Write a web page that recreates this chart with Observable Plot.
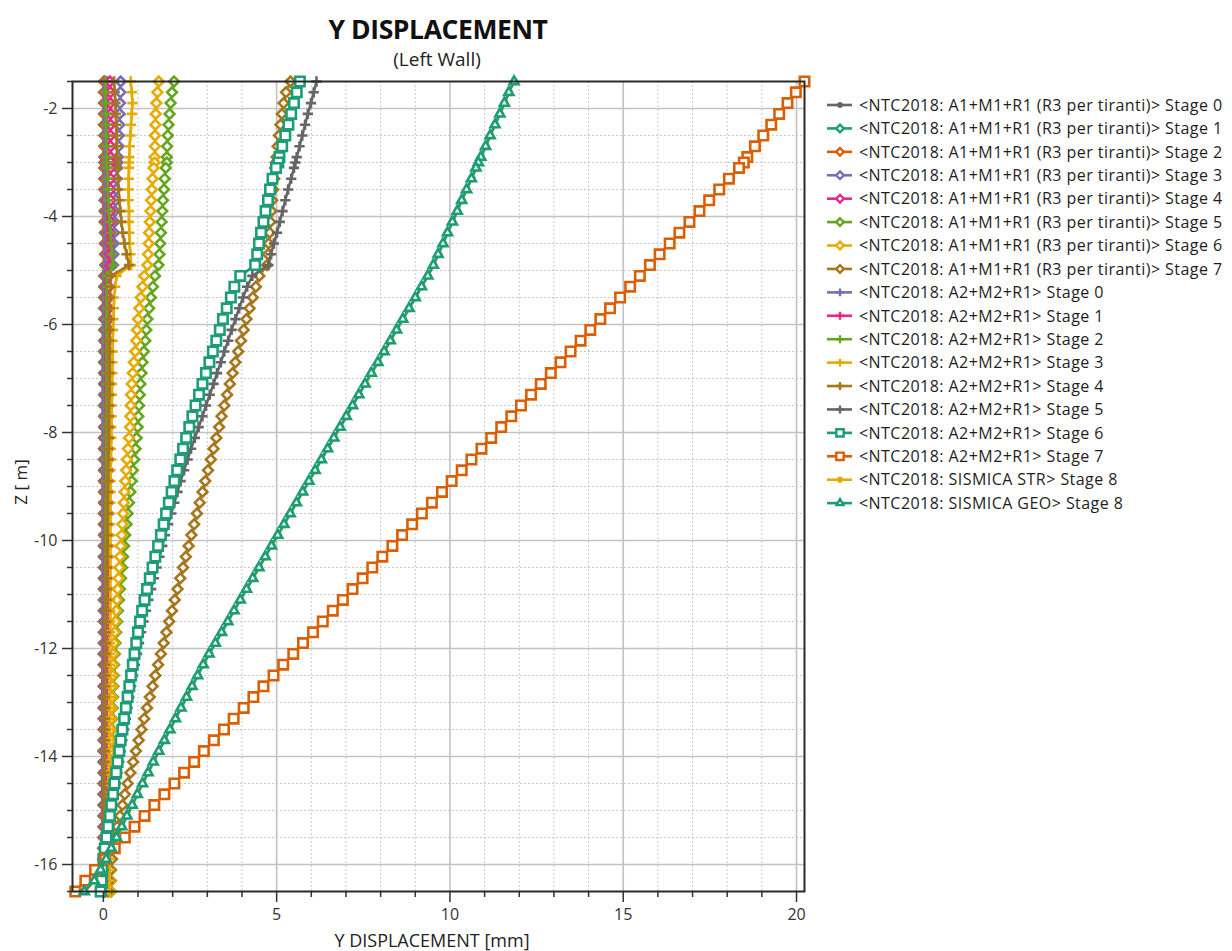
<!DOCTYPE html>
<html><head><meta charset="utf-8">
<script src="https://cdn.jsdelivr.net/npm/d3@7"></script>
<script src="https://cdn.jsdelivr.net/npm/@observablehq/plot@0.6"></script>
<style>
body{margin:0;background:#fff;font-family:"Open Sans",sans-serif;}
#wrap{position:relative;width:1232px;height:951px;overflow:hidden;background:#fff;}
.t{position:absolute;white-space:nowrap;color:#111;}
</style></head><body><div id="wrap"></div>
<script>
const depths = [-1.5,-1.7,-1.9,-2.1,-2.3,-2.5,-2.7,-2.9,-3.0,-3.1,
 -3.3,-3.5,-3.7,-3.9,-4.1,-4.3,-4.5,-4.7,-4.9,-5.1,
 -5.3,-5.5,-5.7,-5.9,-6.1,-6.3,-6.5,-6.7,-6.9,-7.1,
 -7.3,-7.5,-7.7,-7.9,-8.1,-8.3,-8.5,-8.7,-8.9,-9.1,
 -9.3,-9.5,-9.7,-9.9,-10.1,-10.3,-10.5,-10.7,-10.9,-11.1,
 -11.3,-11.5,-11.7,-11.9,-12.1,-12.3,-12.5,-12.7,-12.9,-13.1,
 -13.3,-13.5,-13.7,-13.9,-14.1,-14.3,-14.5,-14.7,-14.9,-15.1,
 -15.3,-15.5,-15.7,-15.9,-16.1,-16.3,-16.5];

const a1Stage0 = [0.02,0.02,0.01,0.01,0.01,0.01,0.00,0.00,0.00,0.00,
 0.00,0.00,0.00,0.00,0.01,0.01,0.01,0.02,0.02,0.00,
 0.00,-0.01,-0.01,-0.01,-0.01,-0.02,-0.02,-0.02,-0.02,-0.02,
 -0.02,-0.02,-0.02,-0.02,-0.02,-0.02,-0.02,-0.02,-0.02,-0.02,
 -0.02,-0.02,-0.02,-0.02,-0.02,-0.02,-0.02,-0.02,-0.02,-0.02,
 -0.02,-0.02,-0.02,-0.02,-0.02,-0.02,-0.03,-0.03,-0.03,-0.03,
 -0.03,-0.03,-0.03,-0.03,-0.03,-0.03,-0.03,-0.03,-0.03,-0.03,
 -0.03,-0.03,-0.04,-0.04,-0.04,-0.05,-0.05];
const a1Stage1 = [0.04,0.04,0.04,0.04,0.04,0.04,0.04,0.04,0.04,0.04,
 0.04,0.04,0.05,0.05,0.05,0.06,0.06,0.07,0.07,0.03,
 0.03,0.03,0.03,0.03,0.03,0.03,0.03,0.03,0.03,0.03,
 0.03,0.03,0.03,0.03,0.03,0.03,0.03,0.03,0.03,0.03,
 0.03,0.03,0.03,0.03,0.02,0.02,0.02,0.02,0.02,0.02,
 0.02,0.02,0.02,0.02,0.02,0.02,0.02,0.02,0.02,0.02,
 0.02,0.02,0.01,0.01,0.01,0.01,0.01,0.01,0.01,0.01,
 0.01,0.01,0.00,0.00,0.00,0.00,-0.01];
const a1Stage2 = [0.02,0.02,0.02,0.02,0.02,0.03,0.03,0.03,0.03,0.03,
 0.03,0.03,0.04,0.04,0.04,0.05,0.05,0.05,0.06,0.03,
 0.03,0.03,0.03,0.03,0.03,0.03,0.03,0.03,0.03,0.03,
 0.03,0.03,0.03,0.03,0.02,0.02,0.02,0.02,0.02,0.02,
 0.02,0.02,0.02,0.02,0.02,0.02,0.02,0.02,0.02,0.02,
 0.02,0.02,0.02,0.02,0.01,0.01,0.01,0.01,0.01,0.01,
 0.01,0.01,0.01,0.01,0.01,0.01,0.01,0.01,0.01,0.01,
 0.01,0.00,0.00,0.00,0.00,-0.01,-0.01];
const a1Stage3 = [0.50,0.49,0.48,0.47,0.46,0.45,0.44,0.42,0.41,0.40,
 0.38,0.36,0.35,0.33,0.32,0.31,0.30,0.29,0.28,0.08,
 0.07,0.07,0.07,0.06,0.06,0.06,0.06,0.06,0.06,0.05,
 0.05,0.05,0.05,0.05,0.05,0.05,0.05,0.05,0.05,0.05,
 0.05,0.05,0.05,0.04,0.04,0.04,0.04,0.04,0.04,0.04,
 0.04,0.04,0.04,0.03,0.03,0.03,0.03,0.03,0.03,0.03,
 0.03,0.03,0.02,0.02,0.02,0.02,0.02,0.02,0.02,0.02,
 0.01,0.01,0.01,0.01,0.00,0.00,0.00];
const a1Stage4 = [0.19,0.20,0.20,0.21,0.21,0.21,0.21,0.21,0.21,0.21,
 0.21,0.21,0.21,0.21,0.21,0.20,0.20,0.19,0.18,0.16,
 0.16,0.16,0.16,0.16,0.16,0.16,0.16,0.16,0.16,0.16,
 0.15,0.15,0.15,0.15,0.14,0.14,0.14,0.14,0.13,0.13,
 0.13,0.13,0.12,0.12,0.12,0.12,0.11,0.11,0.11,0.11,
 0.10,0.10,0.10,0.10,0.09,0.09,0.09,0.09,0.08,0.08,
 0.08,0.08,0.07,0.07,0.07,0.07,0.06,0.06,0.06,0.06,
 0.05,0.05,0.05,0.05,0.04,0.04,0.04];
const a1Stage5 = [2.04,1.98,1.94,1.91,1.88,1.86,1.84,1.83,1.83,1.80,
 1.77,1.75,1.72,1.70,1.68,1.66,1.64,1.62,1.59,1.49,
 1.43,1.37,1.32,1.27,1.24,1.21,1.17,1.13,1.10,1.07,
 1.05,1.03,1.01,0.99,0.96,0.93,0.89,0.85,0.82,0.78,
 0.74,0.70,0.67,0.63,0.60,0.57,0.54,0.51,0.48,0.45,
 0.42,0.40,0.37,0.35,0.33,0.31,0.30,0.29,0.28,0.27,
 0.26,0.25,0.25,0.24,0.24,0.23,0.23,0.23,0.22,0.22,
 0.22,0.22,0.22,0.22,0.22,0.22,0.22];
const a1Stage6 = [1.60,1.56,1.53,1.51,1.50,1.49,1.49,1.48,1.48,1.45,
 1.42,1.40,1.38,1.36,1.34,1.32,1.31,1.29,1.27,1.18,
 1.13,1.08,1.04,1.00,0.97,0.95,0.92,0.88,0.85,0.82,
 0.80,0.79,0.78,0.77,0.74,0.71,0.68,0.66,0.63,0.61,
 0.59,0.57,0.55,0.53,0.50,0.48,0.46,0.44,0.41,0.39,
 0.37,0.35,0.33,0.31,0.29,0.28,0.27,0.26,0.25,0.24,
 0.23,0.23,0.22,0.22,0.21,0.21,0.21,0.20,0.20,0.20,
 0.20,0.20,0.20,0.20,0.20,0.21,0.21];
const a1Stage7 = [5.40,5.27,5.20,5.15,5.11,5.07,5.03,5.00,4.98,4.96,
 4.93,4.90,4.87,4.85,4.82,4.80,4.77,4.75,4.72,4.50,
 4.40,4.31,4.22,4.13,4.05,3.97,3.89,3.81,3.73,3.65,
 3.57,3.49,3.41,3.34,3.26,3.18,3.10,3.02,2.94,2.86,
 2.78,2.70,2.62,2.54,2.46,2.38,2.30,2.22,2.14,2.06,
 1.98,1.90,1.82,1.74,1.66,1.58,1.50,1.42,1.34,1.26,
 1.18,1.10,1.02,0.94,0.86,0.78,0.70,0.62,0.55,0.48,
 0.40,0.34,0.29,0.25,0.21,0.17,0.14];
const a2Stage0 = [0.02,0.02,0.02,0.02,0.02,0.02,0.03,0.03,0.03,0.03,
 0.03,0.03,0.03,0.03,0.04,0.04,0.04,0.05,0.05,0.02,
 0.02,0.02,0.02,0.02,0.02,0.02,0.02,0.02,0.02,0.02,
 0.02,0.02,0.02,0.02,0.02,0.02,0.02,0.02,0.02,0.02,
 0.02,0.02,0.02,0.02,0.02,0.02,0.02,0.02,0.02,0.02,
 0.02,0.02,0.02,0.02,0.01,0.01,0.01,0.01,0.01,0.01,
 0.01,0.01,0.01,0.01,0.01,0.01,0.01,0.01,0.01,0.01,
 0.01,0.01,0.00,0.00,0.00,0.00,0.00];
const a2Stage1 = [0.10,0.10,0.10,0.10,0.11,0.11,0.11,0.11,0.11,0.11,
 0.12,0.12,0.12,0.13,0.13,0.14,0.15,0.16,0.17,0.07,
 0.07,0.07,0.07,0.07,0.07,0.06,0.06,0.06,0.06,0.06,
 0.06,0.06,0.06,0.06,0.06,0.06,0.06,0.06,0.06,0.06,
 0.05,0.05,0.05,0.05,0.05,0.05,0.05,0.05,0.05,0.05,
 0.05,0.05,0.05,0.04,0.04,0.04,0.04,0.04,0.04,0.04,
 0.04,0.03,0.03,0.03,0.03,0.03,0.03,0.03,0.02,0.02,
 0.02,0.02,0.02,0.01,0.01,0.01,0.01];
const a2Stage2 = [0.06,0.07,0.07,0.08,0.08,0.09,0.09,0.10,0.10,0.11,
 0.12,0.13,0.14,0.16,0.18,0.20,0.22,0.25,0.28,0.10,
 0.10,0.10,0.10,0.09,0.09,0.09,0.09,0.09,0.09,0.09,
 0.09,0.09,0.08,0.08,0.08,0.08,0.08,0.08,0.08,0.08,
 0.07,0.07,0.07,0.07,0.07,0.07,0.07,0.07,0.07,0.07,
 0.07,0.06,0.06,0.06,0.06,0.06,0.06,0.05,0.05,0.05,
 0.05,0.05,0.04,0.04,0.04,0.04,0.04,0.03,0.03,0.03,
 0.03,0.03,0.02,0.02,0.02,0.02,0.02];
const a2Stage3 = [0.79,0.82,0.84,0.82,0.80,0.78,0.76,0.75,0.74,0.74,
 0.73,0.73,0.73,0.74,0.74,0.75,0.76,0.78,0.80,0.38,
 0.34,0.31,0.30,0.29,0.28,0.27,0.27,0.26,0.26,0.25,
 0.25,0.24,0.24,0.23,0.23,0.22,0.22,0.21,0.21,0.21,
 0.20,0.20,0.20,0.20,0.20,0.20,0.20,0.20,0.20,0.20,
 0.20,0.20,0.20,0.19,0.19,0.19,0.19,0.19,0.19,0.19,
 0.19,0.18,0.18,0.18,0.18,0.18,0.18,0.18,0.18,0.18,
 0.18,0.18,0.18,0.18,0.18,0.18,0.18];
const a2Stage4 = [0.31,0.33,0.35,0.36,0.37,0.38,0.39,0.40,0.40,0.41,
 0.42,0.44,0.46,0.49,0.52,0.56,0.61,0.67,0.74,0.22,
 0.20,0.19,0.18,0.18,0.17,0.17,0.17,0.17,0.17,0.17,
 0.17,0.16,0.16,0.16,0.16,0.15,0.15,0.14,0.14,0.13,
 0.13,0.13,0.12,0.12,0.12,0.11,0.10,0.10,0.09,0.09,
 0.08,0.08,0.07,0.07,0.06,0.05,0.05,0.05,0.04,0.04,
 0.04,0.03,0.03,0.03,0.03,0.02,0.02,0.02,0.02,0.01,
 0.01,0.01,0.01,0.00,0.00,0.00,0.00];
const a2Stage5 = [6.15,6.07,5.99,5.90,5.82,5.74,5.66,5.58,5.54,5.50,
 5.42,5.33,5.25,5.17,5.09,5.01,4.92,4.84,4.76,4.30,
 4.15,4.03,3.92,3.81,3.70,3.60,3.49,3.39,3.28,3.18,
 3.07,2.96,2.86,2.75,2.64,2.53,2.43,2.33,2.23,2.14,
 2.05,1.96,1.87,1.78,1.70,1.62,1.54,1.46,1.38,1.30,
 1.23,1.16,1.09,1.03,0.97,0.91,0.86,0.80,0.75,0.70,
 0.65,0.60,0.55,0.50,0.46,0.41,0.36,0.32,0.27,0.22,
 0.17,0.12,0.07,0.03,0.00,-0.03,-0.05];
const a2Stage6 = [5.67,5.58,5.50,5.42,5.34,5.25,5.16,5.08,5.05,4.98,
 4.88,4.81,4.75,4.68,4.62,4.55,4.49,4.44,4.38,3.95,
 3.78,3.68,3.56,3.45,3.36,3.26,3.16,3.06,2.96,2.86,
 2.76,2.66,2.57,2.48,2.39,2.30,2.22,2.13,2.05,1.97,
 1.89,1.81,1.74,1.66,1.58,1.50,1.42,1.34,1.26,1.19,
 1.12,1.06,1.00,0.95,0.90,0.85,0.80,0.75,0.70,0.65,
 0.60,0.55,0.50,0.46,0.41,0.37,0.32,0.28,0.23,0.19,
 0.14,0.09,0.04,0.00,-0.03,-0.05,-0.08];
const a2Stage7 = [20.23,19.98,19.74,19.50,19.27,19.04,18.80,18.58,18.48,18.34,
 18.05,17.77,17.48,17.20,16.91,16.62,16.34,16.05,15.77,15.48,
 15.20,14.91,14.62,14.34,14.05,13.77,13.48,13.19,12.91,12.62,
 12.34,12.05,11.77,11.48,11.19,10.91,10.62,10.34,10.05,9.77,
 9.48,9.19,8.91,8.62,8.34,8.05,7.76,7.48,7.19,6.91,
 6.62,6.33,6.05,5.76,5.48,5.19,4.91,4.62,4.33,4.05,
 3.76,3.48,3.19,2.90,2.62,2.33,2.05,1.76,1.47,1.19,
 0.90,0.62,0.33,0.05,-0.24,-0.52,-0.81];
const sismicaStr = [11.86,11.71,11.58,11.45,11.31,11.17,11.04,10.90,10.83,10.76,
 10.63,10.49,10.35,10.22,10.08,9.94,9.81,9.67,9.53,9.37,
 9.19,9.01,8.83,8.65,8.47,8.29,8.11,7.93,7.74,7.56,
 7.38,7.20,7.02,6.84,6.66,6.48,6.30,6.12,5.94,5.76,
 5.58,5.40,5.22,5.04,4.86,4.68,4.50,4.32,4.14,3.96,
 3.78,3.60,3.42,3.24,3.06,2.89,2.73,2.57,2.41,2.25,
 2.09,1.93,1.77,1.61,1.45,1.30,1.14,0.99,0.84,0.69,
 0.54,0.39,0.24,0.09,-0.07,-0.25,-0.54];
const sismicaGeo = [11.85,11.70,11.57,11.44,11.30,11.16,11.03,10.89,10.82,10.75,
 10.62,10.48,10.34,10.21,10.07,9.93,9.80,9.66,9.52,9.36,
 9.18,9.00,8.82,8.64,8.46,8.28,8.10,7.92,7.73,7.55,
 7.37,7.19,7.01,6.83,6.65,6.47,6.29,6.11,5.93,5.75,
 5.57,5.39,5.21,5.03,4.85,4.67,4.49,4.31,4.13,3.95,
 3.77,3.59,3.41,3.23,3.05,2.88,2.72,2.56,2.40,2.24,
 2.08,1.92,1.76,1.60,1.44,1.29,1.13,0.98,0.83,0.68,
 0.53,0.38,0.23,0.08,-0.08,-0.26,-0.55];

const seriesLabels = [
 "<NTC2018: A1+M1+R1 (R3 per tiranti)> Stage 0",
 "<NTC2018: A1+M1+R1 (R3 per tiranti)> Stage 1",
 "<NTC2018: A1+M1+R1 (R3 per tiranti)> Stage 2",
 "<NTC2018: A1+M1+R1 (R3 per tiranti)> Stage 3",
 "<NTC2018: A1+M1+R1 (R3 per tiranti)> Stage 4",
 "<NTC2018: A1+M1+R1 (R3 per tiranti)> Stage 5",
 "<NTC2018: A1+M1+R1 (R3 per tiranti)> Stage 6",
 "<NTC2018: A1+M1+R1 (R3 per tiranti)> Stage 7",
 "<NTC2018: A2+M2+R1> Stage 0",
 "<NTC2018: A2+M2+R1> Stage 1",
 "<NTC2018: A2+M2+R1> Stage 2",
 "<NTC2018: A2+M2+R1> Stage 3",
 "<NTC2018: A2+M2+R1> Stage 4",
 "<NTC2018: A2+M2+R1> Stage 5",
 "<NTC2018: A2+M2+R1> Stage 6",
 "<NTC2018: A2+M2+R1> Stage 7",
 "<NTC2018: SISMICA STR> Stage 8",
 "<NTC2018: SISMICA GEO> Stage 8"];
const seriesValues = [a1Stage0,a1Stage1,a1Stage2,a1Stage3,a1Stage4,a1Stage5,a1Stage6,a1Stage7,
 a2Stage0,a2Stage1,a2Stage2,a2Stage3,a2Stage4,a2Stage5,a2Stage6,a2Stage7,sismicaStr,sismicaGeo];

// styles
const C = {gray:"#666666",teal:"#1b9e77",orange:"#d95f02",purple:"#7570b3",pink:"#e7298a",green:"#66a61e",yellow:"#e6ab02",brown:"#a6761d"};
const seriesColors = [C.gray,C.teal,C.orange,C.purple,C.pink,C.green,C.yellow,C.brown,
 C.purple,C.pink,C.green,C.yellow,C.brown,C.gray,C.teal,C.orange,C.yellow,C.teal];
const seriesSymbols = ["asterisk","diamond2","diamond2","diamond2","diamond2","diamond2","diamond2","diamond2",
 "plus","plus","plus","plus","plus","plus","square2","square2","asterisk","triangle2"];
const symbolR = {asterisk:3.6, diamond2:4.4, plus:3.4, square2:6.0, triangle2:4.3};
const symbolFill = {asterisk:"none", diamond2:"white", plus:"none", square2:"white", triangle2:"white"};

const xMajorTicks = [0,5,10,15,20];
const xMinorTicks = [1,2,3,4,6,7,8,9,11,12,13,14,16,17,18,19];
const yMajorTicks = [-2,-4,-6,-8,-10,-12,-14,-16];
const yMinorTicks = [-2.5,-3,-3.5,-4.5,-5,-5.5,-6.5,-7,-7.5,-8.5,-9,-9.5,-10.5,-11,-11.5,-12.5,-13,-13.5,-14.5,-15,-15.5];

const FONT = "'Open Sans', sans-serif";
const wrap = document.getElementById("wrap");

const marks = [
  Plot.gridX(xMinorTicks, {stroke:"#c9c9c9", strokeOpacity:1, strokeDasharray:"2,2", strokeWidth:1}),
  Plot.gridY(yMinorTicks, {stroke:"#c9c9c9", strokeOpacity:1, strokeDasharray:"2,2", strokeWidth:1}),
  Plot.gridX(xMajorTicks, {stroke:"#c2c2c2", strokeOpacity:1, strokeWidth:1.6}),
  Plot.gridY(yMajorTicks, {stroke:"#c2c2c2", strokeOpacity:1, strokeWidth:1.6})
];
seriesValues.forEach((vals, s) => {
  const rows = depths.map((z, i) => ({x: vals[i], z})).filter(d => d.x != null);
  const sym = seriesSymbols[s];
  marks.push(Plot.line(rows, {x:"x", y:"z", stroke: seriesColors[s], strokeWidth:2.6}));
  marks.push(Plot.dot(rows, {x:"x", y:"z", symbol: () => sym, r: symbolR[sym],
    stroke: seriesColors[s], fill: symbolFill[sym], strokeWidth: s === 16 ? 3.2 : 2.6}));
});
marks.push(
  Plot.axisX(xMinorTicks, {tickSize:6, tickFormat: () => "", strokeWidth:1.5, label:null}),
  Plot.axisX(xMajorTicks, {tickSize:11, tickPadding:6, tickFormat: d => String(d), strokeWidth:1.5, label:null}),
  Plot.axisY([-1.5,...yMinorTicks,-16.5], {tickSize:5, tickFormat: () => "", strokeWidth:1.5, label:null}),
  Plot.axisY(yMajorTicks, {tickSize:10, tickPadding:5, tickFormat: d => String(d), strokeWidth:1.5, label:null}),
  Plot.frame({stroke:"#2a2a2a", strokeWidth:2})
);

const chart = Plot.plot({
  width: 1232, height: 951,
  marginLeft: 72, marginRight: 428, marginTop: 81, marginBottom: 60,
  x: {domain: [-0.89, 20.23], axis: null},
  y: {domain: [-16.5, -1.5], axis: null},
  style: {fontSize: "16px", fontFamily: FONT, color: "#333", background: "transparent", overflow: "visible"},
  marks
});
chart.style.position = "absolute"; chart.style.left = "0px"; chart.style.top = "0px";
wrap.appendChild(chart);

// legend
const symMap = {asterisk:d3.symbolAsterisk, diamond2:d3.symbolDiamond2, plus:d3.symbolPlus, square2:d3.symbolSquare2, triangle2:d3.symbolTriangle2};
const lg = d3.select(wrap).append("svg").attr("width",1232).attr("height",951)
  .style("position","absolute").style("left","0px").style("top","0px").style("overflow","visible");
seriesLabels.forEach((lab, k) => {
  const y = 105 + 23.42 * k;
  const sym = seriesSymbols[k];
  lg.append("line").attr("x1",827).attr("x2",852).attr("y1",y).attr("y2",y)
    .attr("stroke",seriesColors[k]).attr("stroke-width",2.6);
  lg.append("path").attr("d", d3.symbol(symMap[sym], Math.PI * Math.pow(symbolR[sym]*0.78,2))())
    .attr("transform",`translate(840,${y})`).attr("stroke",seriesColors[k])
    .attr("fill", symbolFill[sym] === "none" ? "none" : "white").attr("stroke-width", k === 16 ? 3.2 : 2.4);
  lg.append("text").attr("x",859).attr("y",y).attr("dy","0.36em")
    .attr("font-family",FONT).attr("font-size","16px").attr("letter-spacing","0.45px")
    .attr("fill","#1e1e1e").text(lab);
});

// titles
function addText(txt, css) {
  const d = document.createElement("div"); d.className = "t"; d.textContent = txt;
  Object.assign(d.style, css); wrap.appendChild(d); return d;
}
addText("Y DISPLACEMENT", {left:"438px", top:"11px", transform:"translateX(-50%)", fontSize:"26.5px", fontWeight:"700", letterSpacing:"-0.4px"});
addText("(Left Wall)", {left:"437px", top:"46px", transform:"translateX(-50%)", fontSize:"19px", color:"#222"});
addText("Y DISPLACEMENT [mm]", {left:"432px", top:"928px", transform:"translateX(-50%)", fontSize:"18px", color:"#222"});
addText("Z [ m]", {left:"20px", top:"482px", transform:"translate(-50%,-50%) rotate(-90deg)", fontSize:"17px", color:"#222"});
</script></body></html>
